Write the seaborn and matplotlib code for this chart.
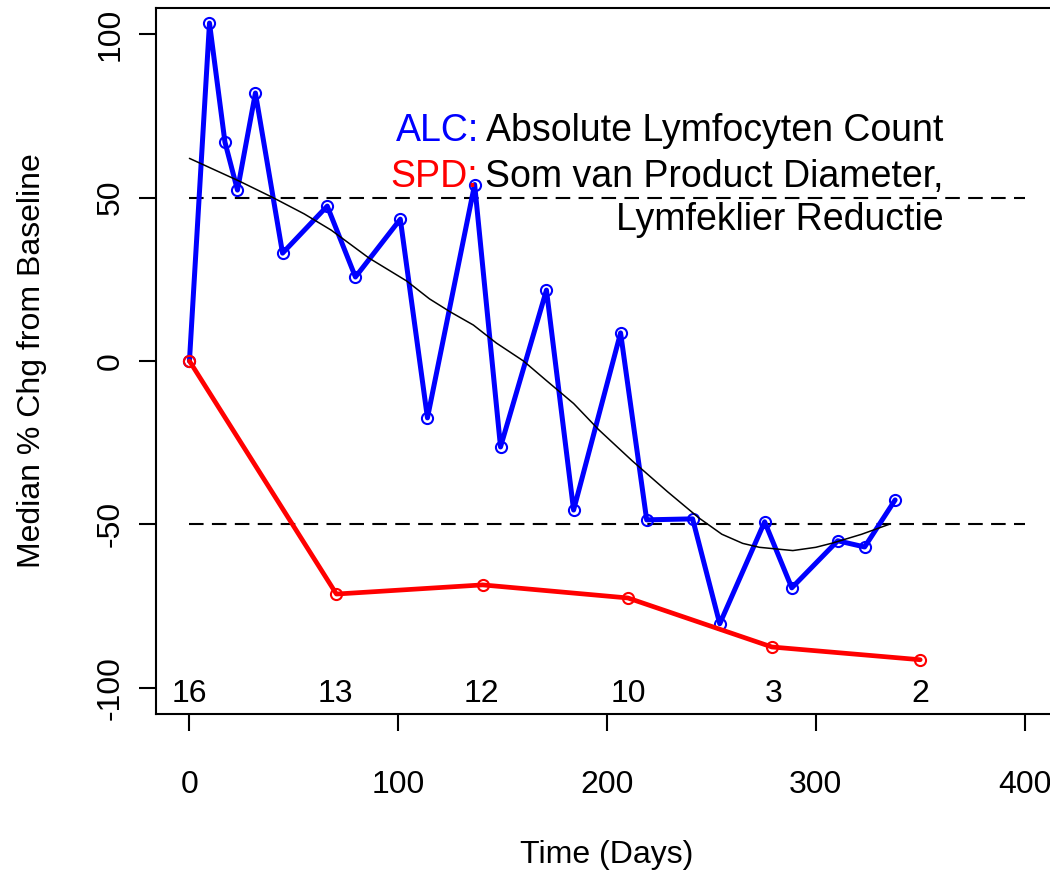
import numpy as np
import pandas as pd
import matplotlib
matplotlib.use('Agg')
import matplotlib.pyplot as plt
import seaborn as sns

sns.set_style('ticks')
plt.rcParams['font.family'] = ['Liberation Sans', 'DejaVu Sans']
plt.rcParams['axes.unicode_minus'] = False
for k in ['text.color', 'axes.labelcolor', 'xtick.color', 'ytick.color']:
    plt.rcParams[k] = 'black'

# ALC (blauw) - mediaan % verandering t.o.v. baseline
alc_days = [0, 9.6, 17, 23, 31.6, 44.6, 66, 79.5, 101, 114, 136.6, 149, 171, 184,
            206.5, 219, 241, 254, 275.5, 288.5, 310.5, 323.4, 338]
alc_chg = [0, 103.4, 67, 52.3, 82, 33, 47.4, 25.7, 43.4, -17.4, 54, -26.3, 21.7, -45.6,
           8.6, -48.6, -48.3, -80.4, -49.2, -69.4, -55, -56.9, -42.5]

# SPD (rood)
spd_days = [0, 70.4, 140.4, 210, 279, 350]
spd_chg = [0, -71.3, -68.5, -72.5, -87.5, -91.4]

trend_days = [0, 12, 24, 40, 55, 68, 86, 104, 115, 125, 136, 147, 160, 171, 184, 196,
              212, 229, 244, 255, 265, 273, 289, 300, 308, 322, 335]
trend_chg = [62, 58.5, 55, 50, 45, 40, 31.5, 24.5, 19, 15, 11, 5.5, 0, -6, -13, -21,
             -30.5, -40, -48, -53, -55.8, -57, -58, -57, -55.7, -53, -50]

# aantal patienten
n_days = [0, 70, 140, 210, 280, 350]
n_pat = ['16', '13', '12', '10', '3', '2']

fig = plt.figure(figsize=(10.5, 8.72), dpi=100)
ax = fig.add_axes([0.1486, 0.1812, 0.859, 0.8096])

ax.hlines([50, -50], 0, 400, colors='black', linestyles=(0, (7, 4)), lw=1.5, zorder=1)

sns.lineplot(x=alc_days, y=alc_chg, ax=ax, color='blue', lw=3.6, marker='o', ms=8,
             mfc='none', mec='blue', mew=1.5, estimator=None, sort=False, zorder=3)
sns.lineplot(x=spd_days, y=spd_chg, ax=ax, color='red', lw=3.4, marker='o', ms=8,
             mfc='none', mec='red', mew=1.5, estimator=None, sort=False, zorder=3)
sns.lineplot(x=trend_days, y=trend_chg, ax=ax, color='black', lw=1.1,
             estimator=None, sort=False, zorder=4)

for d, n in zip(n_days, n_pat):
    ax.text(d, -102, n, ha='center', va='center', fontsize=23)

# legenda-tekst
fs = 27
t1 = ax.text(361, 67.3, 'Absolute Lymfocyten Count', ha='right', va='baseline', fontsize=fs)
t2 = ax.text(361, 53.2, 'Som van Product Diameter,', ha='right', va='baseline', fontsize=fs)
ax.text(361, 40, 'Lymfeklier Reductie', ha='right', va='baseline', fontsize=fs)
ax.annotate('ALC:', xy=(0, 0), xycoords=t1, xytext=(-5, 0), textcoords='offset points',
            ha='right', va='bottom', fontsize=fs, color='blue')
ax.annotate('SPD:', xy=(0, 0), xycoords=t2, xytext=(-5, 0), textcoords='offset points',
            ha='right', va='bottom', fontsize=fs, color='red')

ax.set_xlim(-16, 416)
ax.set_ylim(-108, 108)
ax.set_xticks([0, 100, 200, 300, 400])
ax.set_yticks([-100, -50, 0, 50, 100])
ax.tick_params(axis='both', length=12, width=1.5, labelsize=23, color='black')
ax.tick_params(axis='x', pad=28)
ax.tick_params(axis='y', pad=10, labelrotation=90)
for lab in ax.get_yticklabels():
    lab.set_va('center')

for s in ax.spines.values():
    s.set_linewidth(1.5)
    s.set_color('black')

ax.set_xlabel('Time (Days)', fontsize=23)
ax.set_ylabel('Median % Chg from Baseline', fontsize=23)
ax.xaxis.set_label_coords(0.5, -0.178)
ax.yaxis.set_label_coords(-0.121, 0.5)

fig.savefig('out.png', dpi=100)
